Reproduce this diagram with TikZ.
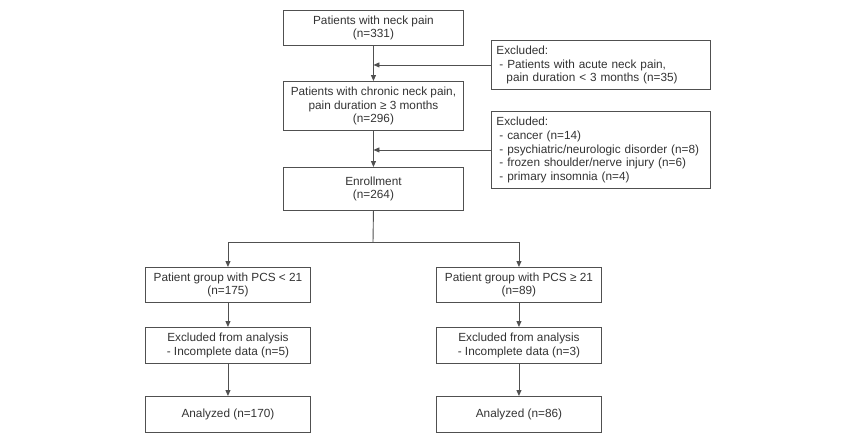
\documentclass[tikz,border=0pt]{standalone}
\usepackage{fontspec}
\setmainfont{Liberation Sans}
\usetikzlibrary{arrows.meta}
\definecolor{ln}{HTML}{505050}
\definecolor{tx}{HTML}{333333}
\begin{document}
\begin{tikzpicture}[x=1pt,y=-1pt,
  box/.style={draw=ln,line width=0.9pt,anchor=north west,inner sep=0pt,align=center,
    font=\fontsize{11.8}{13.6}\selectfont,text=tx},
  arr/.style={draw=ln,line width=0.9pt,-{Triangle[length=6pt,width=5pt]}},
  ln/.style={draw=ln,line width=0.9pt}]
\useasboundingbox (0,0) rectangle (850,437);
\node[box,minimum width=180,minimum height=35] (b1) at (283,10) {Patients with neck pain\\(n=331)};
\node[box,minimum width=180,minimum height=49] (b2) at (283,81) {Patients with chronic neck pain,\\pain duration ≥ 3 months\\(n=296)};
\node[box,minimum width=180,minimum height=43] (en) at (283,167) {Enrollment\\(n=264)};
\node[box,minimum width=219,minimum height=49,align=left,text width=211] (x1) at (491,40)
  {\hspace*{1pt}Excluded:\\\hspace*{4pt}- Patients with acute neck pain,\\\hspace*{11pt}pain duration < 3 months (n=35)};
\node[box,minimum width=219,minimum height=77,align=left,text width=211] (x2) at (491,111)
  {\hspace*{1pt}Excluded:\\\hspace*{4pt}- cancer (n=14)\\\hspace*{4pt}- psychiatric/neurologic disorder (n=8)\\\hspace*{4pt}- frozen shoulder/nerve injury (n=6)\\\hspace*{4pt}- primary insomnia (n=4)};
\node[box,minimum width=165,minimum height=35] (g1) at (145,267) {Patient group with PCS < 21\\(n=175)};
\node[box,minimum width=165,minimum height=36] (e1) at (145,327) {Excluded from analysis\\- Incomplete data (n=5)};
\node[box,minimum width=165,minimum height=36] (a1) at (145,396) {Analyzed (n=170)};
\node[box,minimum width=165,minimum height=35] (g2) at (436,267) {Patient group with PCS ≥ 21\\(n=89)};
\node[box,minimum width=165,minimum height=36] (e2) at (436,327) {Excluded from analysis\\- Incomplete data (n=3)};
\node[box,minimum width=165,minimum height=36] (a2) at (436,396) {Analyzed (n=86)};
\coordinate (sp) at (373,242);
\draw[arr] (b1.south) -- (b2.north);
\draw[arr] (b2.south) -- (en.north);
\draw[arr] (x1.west) -- (b1.south |- x1.west);
\draw[arr] (x2.west) -- (b2.south |- x2.west);
\draw[ln] (en.south) -- (sp);
\draw[arr] (sp) -| (g1.north);
\draw[arr] (sp) -| (g2.north);
\draw[arr] (g1.south) -- (e1.north);
\draw[arr] (e1.south) -- (a1.north);
\draw[arr] (g2.south) -- (e2.north);
\draw[arr] (e2.south) -- (a2.north);
\end{tikzpicture}
\end{document}
